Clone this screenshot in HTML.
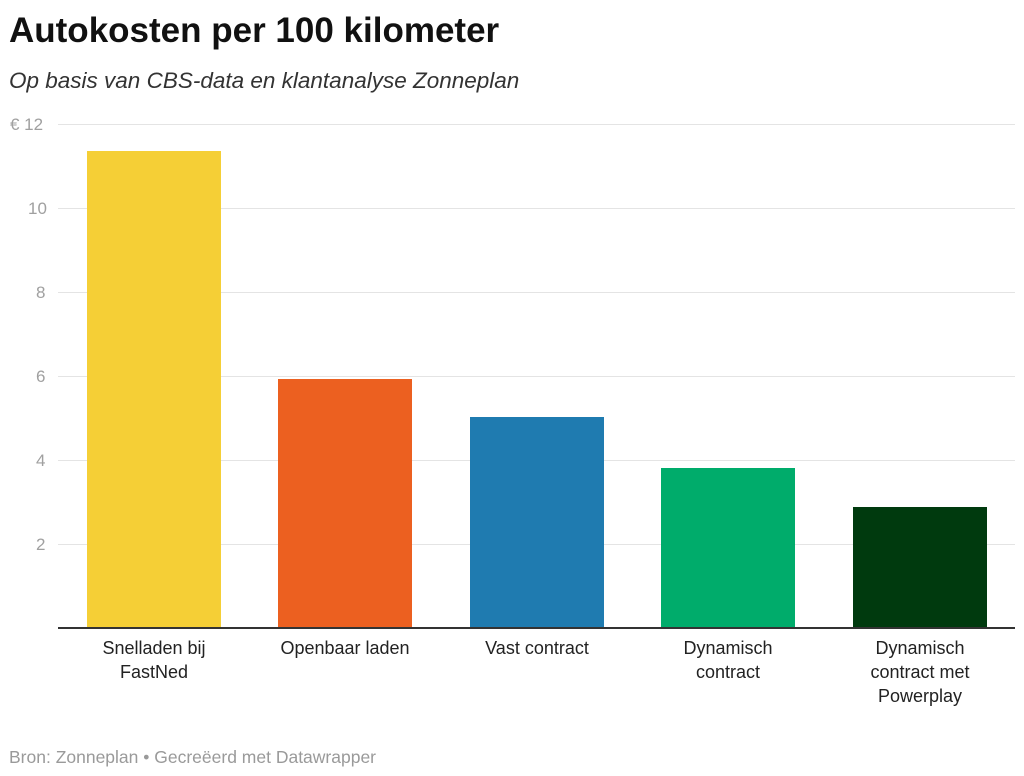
<!DOCTYPE html>
<html><head><meta charset="utf-8"><style>
body{margin:0;background:#fff;width:1024px;height:776px;position:relative;font-family:"Liberation Sans",sans-serif;overflow:hidden}
.t{position:absolute;white-space:nowrap}
.g{position:absolute;left:58px;width:957px;height:1px;background:#e4e4e4}
.yl{position:absolute;left:10px;color:#a0a0a0;font-size:17px}
.b{position:absolute;width:134px}
.xl{position:absolute;width:180px;text-align:center;font-size:18px;color:#222;line-height:24px;top:636px}
</style></head><body>
<div class="t" style="left:9px;top:11px;font-size:35px;font-weight:bold;color:#111">Autokosten per 100 kilometer</div>
<div class="t" style="left:9px;top:68px;font-size:22.5px;font-style:italic;color:#333">Op basis van CBS-data en klantanalyse Zonneplan</div>
<div class="g" style="top:124px"></div><div class="yl" style="top:115px">€ 12</div>
<div class="g" style="top:208px"></div><div class="yl" style="top:199px;left:28px">10</div>
<div class="g" style="top:292px"></div><div class="yl" style="top:283px;left:36px">8</div>
<div class="g" style="top:376px"></div><div class="yl" style="top:367px;left:36px">6</div>
<div class="g" style="top:460px"></div><div class="yl" style="top:451px;left:36px">4</div>
<div class="g" style="top:544px"></div><div class="yl" style="top:535px;left:36px">2</div>
<div class="b" style="left:87px;top:151px;height:477px;background:#f5cf36"></div>
<div class="b" style="left:278px;top:379px;height:249px;background:#ec6020"></div>
<div class="b" style="left:470px;top:417px;height:211px;background:#1f7bb0"></div>
<div class="b" style="left:661px;top:468px;height:160px;background:#00ac6b"></div>
<div class="b" style="left:853px;top:507px;height:121px;background:#003a0e"></div>
<div style="position:absolute;left:58px;top:627px;width:957px;height:2px;background:#333"></div>
<div class="xl" style="left:64px">Snelladen bij<br>FastNed</div>
<div class="xl" style="left:255px">Openbaar laden</div>
<div class="xl" style="left:447px">Vast contract</div>
<div class="xl" style="left:638px">Dynamisch<br>contract</div>
<div class="xl" style="left:830px">Dynamisch<br>contract met<br>Powerplay</div>
<div class="t" style="left:9px;top:747px;font-size:17.5px;color:#9a9a9a">Bron: Zonneplan • Gecreëerd met Datawrapper</div>
</body></html>
